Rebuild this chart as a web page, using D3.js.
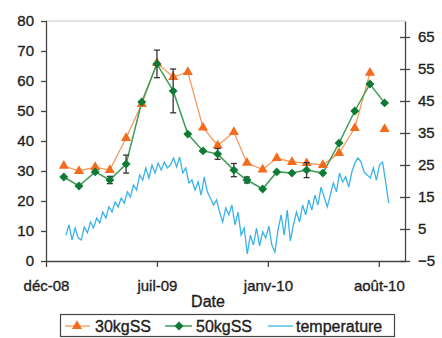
<!DOCTYPE html>
<html>
<head>
<meta charset="UTF-8">
<title>30kgSS / 50kgSS / temperature</title>
<script src="https://d3js.org/d3.v7.min.js"></script>
<style>
  body {margin:0; background:#fff;}
  text {font-family: Arial, "Liberation Sans", sans-serif; fill:#1e1e1e; stroke:#1e1e1e; stroke-width:0.35px;}
  .axis path, .axis line {stroke:#444; stroke-width:1.3;}
  .axis text {font-size:15px; fill:#1e1e1e;}
</style>
</head>
<body>
<div id="chart"></div>
<script>
// sampling dates (roughly monthly)
var sampleDates = ["2009-01-04","2009-02-02","2009-03-05","2009-04-02","2009-05-03","2009-06-02",
  "2009-07-01","2009-08-01","2009-08-29","2009-09-27","2009-10-25","2009-11-25","2009-12-20",
  "2010-01-19","2010-02-15","2010-03-16","2010-04-13","2010-05-14","2010-06-14","2010-07-14",
  "2010-08-12","2010-09-09"];
var s30 = [31.7, 30, 31.3, 30.3, 41, 52.3, 66, 61.3, 63, 44.5, 38.5, 43, 32.7, 30.5, 34.3, 33,
  32.6, 32, 36, 44.3, 62.7, 44];
var s50 = [28, 25, 29.7, 27, 32.3, 53, 65.7, 56.7, 42.3, 36.7, 35.7, 30.3, 27, 24, 29.7, 29.3,
  30.3, 29.3, 39.3, 50, 59, 52.7];
var err50 = [0, 0, 0, 1.2, 3, 0, 4.6, 7.3, 0, 0, 1.8, 2.2, 1, 0, 0, 0, 2.5, 0, 0, 0, 0, 0];
// the 30kgSS line stops before the last point
var s30Connected = 21;

// temperature, read every ~6 days from 8 Jan 2009
var tempStart = "2009-01-08", tempStepDays = 5.875;
var temp = [3.1, 6.3, 1.6, 5.3, 2.2, 1.6, 5.6, 3.8, 7.2, 5.3, 8.4, 6.9, 10.3, 8.4, 11.9, 10.3,
  13.4, 11.9, 14.7, 13.1, 16.6, 15.0, 18.8, 17.2, 21.9, 20.3, 24.1, 20.9, 25.0, 22.5, 25.6, 23.4,
  25.9, 24.1, 25.0, 27.2, 24.4, 27.5, 22.5, 24.1, 19.4, 20.3, 17.2, 19.7, 15.6, 21.3, 16.6, 14.7,
  12.5, 14.1, 10.3, 7.2, 11.6, 9.4, 12.5, 6.3, 10.3, 3.1, 5.3, -2.8, 3.1, 0.0, 5.3, -0.3, 4.1,
  2.2, 5.9, 0.0, -2.2, 4.7, 9.4, 3.1, 10.9, 1.3, 6.3, 10.3, 7.2, 12.5, 9.4, 14.1, 10.9, 15.6,
  12.5, 18.1, 15.0, 11.9, 15.6, 19.4, 16.6, 22.5, 19.7, 21.3, 18.1, 22.8, 25.6, 27.2, 25.9, 22.8,
  21.9, 20.9, 24.1, 20.3, 25.0, 25.9, 19.7, 13.1];

var tickDates = ["2008-12-01","2009-07-01","2010-01-29","2010-08-29"];
var tickLabels = ["déc-08","juil-09","janv-10","août-10"];
var leftTicks = d3.range(0, 81, 10);
var rightTicks = d3.range(-5, 66, 10);

var width = 442, height = 338;
var plot = {left: 46, right: 405, top: 21, bottom: 261};
var parse = d3.timeParse("%Y-%m-%d");

var x = d3.scaleTime()
    .domain([parse("2008-12-01"), parse("2010-10-18")])
    .range([plot.left, plot.right]);
var yL = d3.scaleLinear().domain([0, 80]).range([plot.bottom, plot.top]);
var yR = d3.scaleLinear().domain([-5, 70]).range([plot.bottom, plot.top]);

var svg = d3.select("#chart").append("svg")
    .attr("width", width)
    .attr("height", height)
    .style("background", "#fff");

// top frame line
svg.append("line")
    .attr("x1", plot.left).attr("x2", plot.right)
    .attr("y1", plot.top).attr("y2", plot.top)
    .attr("stroke", "#c8c8c8").attr("stroke-width", 1);

var gx = svg.append("g").attr("class", "axis")
    .attr("transform", "translate(0," + plot.bottom + ")")
    .call(d3.axisBottom(x)
      .tickValues(tickDates.map(parse))
      .tickFormat(function(d, i) { return tickLabels[i]; })
      .tickSize(6).tickSizeOuter(0).tickPadding(13));

var gl = svg.append("g").attr("class", "axis")
    .attr("transform", "translate(" + plot.left + ",0)")
    .call(d3.axisLeft(yL).tickValues(leftTicks).tickSize(5).tickSizeOuter(0).tickPadding(7));
gl.selectAll(".tick line").attr("x2", -5).attr("x1", 1);

var gr = svg.append("g").attr("class", "axis")
    .attr("transform", "translate(" + plot.right + ",0)")
    .call(d3.axisRight(yR).tickValues(rightTicks).tickSize(5).tickSizeOuter(0).tickPadding(8));
gr.selectAll(".tick line").attr("x1", -5).attr("x2", 5);
svg.selectAll(".axis .domain").attr("stroke", "#444");
svg.selectAll(".axis text").attr("fill", "#1e1e1e");

svg.append("text")
    .attr("x", 208).attr("y", 307)
    .attr("text-anchor", "middle")
    .style("font-size", "16px")
    .text("Date");

// temperature
var t0 = parse(tempStart);
var tempData = temp.map(function(v, i) {
  return {date: new Date(t0.getTime() + i * tempStepDays * 864e5), v: v};
});
svg.append("path")
    .datum(tempData)
    .attr("fill", "none")
    .attr("stroke", "#3ab3e8")
    .attr("stroke-width", 1.3)
    .attr("d", d3.line().x(function(d) { return x(d.date); }).y(function(d) { return yR(d.v); }));

var pts = sampleDates.map(function(d, i) {
  return {date: parse(d), a: s30[i], b: s50[i], e: err50[i]};
});

svg.append("path")
    .datum(pts.slice(0, s30Connected))
    .attr("fill", "none")
    .attr("stroke", "#f59a5c")
    .attr("stroke-width", 1.3)
    .attr("d", d3.line().x(function(d) { return x(d.date); }).y(function(d) { return yL(d.a); }));

svg.append("path")
    .datum(pts)
    .attr("fill", "none")
    .attr("stroke", "#3f9d55")
    .attr("stroke-width", 1.5)
    .attr("d", d3.line().x(function(d) { return x(d.date); }).y(function(d) { return yL(d.b); }));

svg.selectAll(".tri")
    .data(pts)
    .enter().append("path")
    .attr("class", "tri")
    .attr("transform", function(d) { return "translate(" + x(d.date) + "," + yL(d.a) + ")"; })
    .attr("d", d3.symbol().type(d3.symbolTriangle).size(44))
    .attr("fill", "#f36b1c");

// error bars on 50kgSS
var eb = svg.selectAll(".err")
    .data(pts.filter(function(d) { return d.e > 0; }))
    .enter().append("g")
    .attr("class", "err")
    .attr("stroke", "#333")
    .attr("stroke-width", 1.3);
eb.append("line")
    .attr("x1", function(d) { return x(d.date); }).attr("x2", function(d) { return x(d.date); })
    .attr("y1", function(d) { return yL(d.b + d.e); }).attr("y2", function(d) { return yL(d.b - d.e); });
eb.append("line")
    .attr("x1", function(d) { return x(d.date) - 3; }).attr("x2", function(d) { return x(d.date) + 3; })
    .attr("y1", function(d) { return yL(d.b + d.e); }).attr("y2", function(d) { return yL(d.b + d.e); });
eb.append("line")
    .attr("x1", function(d) { return x(d.date) - 3; }).attr("x2", function(d) { return x(d.date) + 3; })
    .attr("y1", function(d) { return yL(d.b - d.e); }).attr("y2", function(d) { return yL(d.b - d.e); });

svg.selectAll(".dia")
    .data(pts)
    .enter().append("path")
    .attr("class", "dia")
    .attr("transform", function(d) { return "translate(" + x(d.date) + "," + yL(d.b) + ") rotate(45)"; })
    .attr("d", d3.symbol().type(d3.symbolSquare).size(40))
    .attr("fill", "#0f7a36");

// legend
var lg = svg.append("g");
lg.append("rect")
    .attr("x", 60.5).attr("y", 314.5).attr("width", 334).attr("height", 22)
    .attr("fill", "#fff").attr("stroke", "#444").attr("stroke-width", 1.2);
var ly = 326;
lg.append("line").attr("x1", 65).attr("x2", 90).attr("y1", ly).attr("y2", ly)
    .attr("stroke", "#f59a5c").attr("stroke-width", 1.3);
lg.append("path").attr("transform", "translate(77," + ly + ")")
    .attr("d", d3.symbol().type(d3.symbolTriangle).size(44)).attr("fill", "#f36b1c");
lg.append("text").attr("x", 95).attr("y", 332).style("font-size", "16px").text("30kgSS");
lg.append("line").attr("x1", 165).attr("x2", 192).attr("y1", ly).attr("y2", ly)
    .attr("stroke", "#3f9d55").attr("stroke-width", 1.5);
lg.append("path").attr("transform", "translate(179," + ly + ") rotate(45)")
    .attr("d", d3.symbol().type(d3.symbolSquare).size(40)).attr("fill", "#0f7a36");
lg.append("text").attr("x", 196).attr("y", 332).style("font-size", "16px").text("50kgSS");
lg.append("line").attr("x1", 268).attr("x2", 293).attr("y1", ly).attr("y2", ly)
    .attr("stroke", "#3ab3e8").attr("stroke-width", 1.3);
lg.append("text").attr("x", 296).attr("y", 332).style("font-size", "16px").text("temperature");
</script>
</body>
</html>
